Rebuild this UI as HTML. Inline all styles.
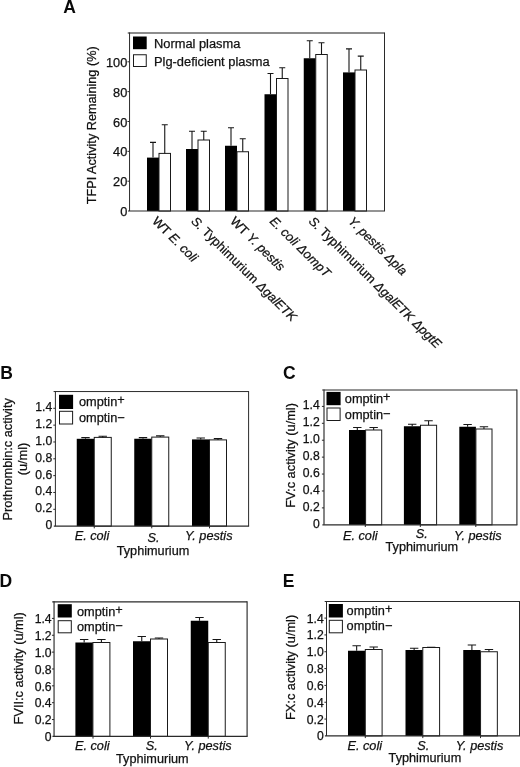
<!DOCTYPE html>
<html><head><meta charset="utf-8"><title>Figure</title>
<style>html,body{margin:0;padding:0;background:#fff}svg{display:block}text{stroke:#111;stroke-width:.25px;font-family:"Liberation Sans",sans-serif;fill:#111}.b{font-weight:bold;font-size:17.5px;fill:#0a0a0a;stroke:none}.i{font-style:italic}</style>
</head><body>
<svg width="520" height="767" viewBox="0 0 520 767">
<rect width="520" height="767" fill="#fff"/>
<text class="b" x="63.3" y="12.6">A</text>
<rect x="147" y="157.6" width="12" height="53.45" fill="#000"/>
<rect x="159" y="153.4" width="11.5" height="57.65" fill="#fff" stroke="#1a1a1a" stroke-width="1"/>
<path d="M153.00 157.6V142.4M150.00 142.4H156.00" fill="none" stroke="#161616" stroke-width="1.1"/>
<path d="M164.75 153.4V124.8M161.75 124.8H167.75" fill="none" stroke="#161616" stroke-width="1.1"/>
<rect x="186" y="149" width="12" height="62.05" fill="#000"/>
<rect x="198" y="140" width="11.5" height="71.05" fill="#fff" stroke="#1a1a1a" stroke-width="1"/>
<path d="M192.00 149V131.25M189.00 131.25H195.00" fill="none" stroke="#161616" stroke-width="1.1"/>
<path d="M203.75 140V131.25M200.75 131.25H206.75" fill="none" stroke="#161616" stroke-width="1.1"/>
<rect x="225" y="145.75" width="12" height="65.30" fill="#000"/>
<rect x="237" y="151.75" width="11.5" height="59.30" fill="#fff" stroke="#1a1a1a" stroke-width="1"/>
<path d="M231.00 145.75V127.75M228.00 127.75H234.00" fill="none" stroke="#161616" stroke-width="1.1"/>
<path d="M242.75 151.75V138.75M239.75 138.75H245.75" fill="none" stroke="#161616" stroke-width="1.1"/>
<rect x="264.5" y="94.25" width="12" height="116.80" fill="#000"/>
<rect x="276.5" y="78.5" width="11.5" height="132.55" fill="#fff" stroke="#1a1a1a" stroke-width="1"/>
<path d="M270.50 94.25V73.5M267.50 73.5H273.50" fill="none" stroke="#161616" stroke-width="1.1"/>
<path d="M282.25 78.5V67.75M279.25 67.75H285.25" fill="none" stroke="#161616" stroke-width="1.1"/>
<rect x="303.75" y="58.25" width="12" height="152.80" fill="#000"/>
<rect x="315.75" y="54.5" width="11.5" height="156.55" fill="#fff" stroke="#1a1a1a" stroke-width="1"/>
<path d="M309.75 58.25V40.75M306.75 40.75H312.75" fill="none" stroke="#161616" stroke-width="1.1"/>
<path d="M321.50 54.5V42.75M318.50 42.75H324.50" fill="none" stroke="#161616" stroke-width="1.1"/>
<rect x="343" y="72.4" width="12" height="138.65" fill="#000"/>
<rect x="355" y="70" width="11.5" height="141.05" fill="#fff" stroke="#1a1a1a" stroke-width="1"/>
<path d="M349.00 72.4V48.9M346.00 48.9H352.00" fill="none" stroke="#161616" stroke-width="1.1"/>
<path d="M360.75 70V56.1M357.75 56.1H363.75" fill="none" stroke="#161616" stroke-width="1.1"/>
<path d="M127.75000000000001 33H384.5" fill="none" stroke="#666" stroke-width="1.3"/>
<path d="M384.5 32.5V211.05" fill="none" stroke="#2a2a2a" stroke-width="1.0"/>
<path d="M129.55 32.5V211.05" fill="none" stroke="#2a2a2a" stroke-width="1.0"/>
<path d="M127.95000000000002 211.05H385.0" fill="none" stroke="#2a2a2a" stroke-width="1.1"/>
<text x="127.3" y="216.15" font-size="12.8" text-anchor="end">0</text>
<path d="M127.45000000000002 181.20H129.55" stroke="#2a2a2a" stroke-width="1"/>
<text x="127.3" y="186.30" font-size="12.8" text-anchor="end">20</text>
<path d="M127.45000000000002 151.35H129.55" stroke="#2a2a2a" stroke-width="1"/>
<text x="127.3" y="156.45" font-size="12.8" text-anchor="end">40</text>
<path d="M127.45000000000002 121.50H129.55" stroke="#2a2a2a" stroke-width="1"/>
<text x="127.3" y="126.60" font-size="12.8" text-anchor="end">60</text>
<path d="M127.45000000000002 91.65H129.55" stroke="#2a2a2a" stroke-width="1"/>
<text x="127.3" y="96.75" font-size="12.8" text-anchor="end">80</text>
<path d="M127.45000000000002 61.80H129.55" stroke="#2a2a2a" stroke-width="1"/>
<text x="127.3" y="66.90" font-size="12.8" text-anchor="end">100</text>
<text transform="translate(96 125.3) rotate(-90)" font-size="12.7" text-anchor="middle">TFPI Activity Remaining (%)</text>
<rect x="133" y="36.5" width="13.7" height="12.7" fill="#000"/>
<rect x="133.5" y="54.75" width="12.75" height="11.75" fill="#fff" stroke="#1a1a1a" stroke-width="1"/>
<text x="154" y="47.9" font-size="12.85">Normal plasma</text>
<text x="154" y="65.9" font-size="12.85">Plg-deficient plasma</text>
<text transform="translate(151.5 222) rotate(44.7)" font-size="12.75">WT <tspan class="i">E. coli</tspan></text>
<text transform="translate(190.5 222) rotate(44.7)" font-size="12.75"><tspan class="i">S.</tspan> Typhimurium <tspan class="i">ΔgalETK</tspan></text>
<text transform="translate(229.5 222) rotate(44.7)" font-size="12.75">WT <tspan class="i">Y. pestis</tspan></text>
<text transform="translate(269 222) rotate(44.7)" font-size="12.75"><tspan class="i">E. coli ΔompT</tspan></text>
<text transform="translate(308 222) rotate(44.7)" font-size="12.75"><tspan class="i">S.</tspan> Typhimurium <tspan class="i">ΔgalETK ΔpgtE</tspan></text>
<text transform="translate(347.5 222) rotate(44.7)" font-size="12.75"><tspan class="i">Y. pestis Δpla</tspan></text>
<text class="b" x="0.15" y="379.3">B</text>
<rect x="76.75" y="438.8" width="17.5" height="87.35" fill="#000"/>
<rect x="94.25" y="437.4" width="17.0" height="88.75" fill="#fff" stroke="#1a1a1a" stroke-width="1"/>
<path d="M85.50 438.8V437.6M81.30 437.6H89.70" fill="none" stroke="#161616" stroke-width="1.1"/>
<path d="M102.75 437.4V436.2M98.55 436.2H106.95" fill="none" stroke="#161616" stroke-width="1.1"/>
<rect x="134.25" y="438.75" width="17.5" height="87.40" fill="#000"/>
<rect x="151.75" y="437.1" width="17.0" height="89.05" fill="#fff" stroke="#1a1a1a" stroke-width="1"/>
<path d="M143.00 438.75V437.6M138.80 437.6H147.20" fill="none" stroke="#161616" stroke-width="1.1"/>
<path d="M160.25 437.1V435.9M156.05 435.9H164.45" fill="none" stroke="#161616" stroke-width="1.1"/>
<rect x="192" y="439.4" width="17.5" height="86.75" fill="#000"/>
<rect x="209.5" y="439.9" width="17.0" height="86.25" fill="#fff" stroke="#1a1a1a" stroke-width="1"/>
<path d="M200.75 439.4V438.0M196.55 438.0H204.95" fill="none" stroke="#161616" stroke-width="1.1"/>
<path d="M218.00 439.9V438.6M213.80 438.6H222.20" fill="none" stroke="#161616" stroke-width="1.1"/>
<path d="M53.6 391.55H248.6" fill="none" stroke="#2a2a2a" stroke-width="1.0"/>
<path d="M248.6 391.05V526.15" fill="none" stroke="#2a2a2a" stroke-width="1.0"/>
<path d="M55.4 391.05V526.15" fill="none" stroke="#2a2a2a" stroke-width="1.0"/>
<path d="M53.8 526.15H249.1" fill="none" stroke="#2a2a2a" stroke-width="1.1"/>
<text x="52.2" y="529.15" font-size="12.2" text-anchor="end">0</text>
<path d="M53.3 509.31H55.4" stroke="#2a2a2a" stroke-width="1"/>
<text x="52.2" y="512.31" font-size="12.2" text-anchor="end">0.2</text>
<path d="M53.3 492.48H55.4" stroke="#2a2a2a" stroke-width="1"/>
<text x="52.2" y="495.48" font-size="12.2" text-anchor="end">0.4</text>
<path d="M53.3 475.64H55.4" stroke="#2a2a2a" stroke-width="1"/>
<text x="52.2" y="478.64" font-size="12.2" text-anchor="end">0.6</text>
<path d="M53.3 458.81H55.4" stroke="#2a2a2a" stroke-width="1"/>
<text x="52.2" y="461.81" font-size="12.2" text-anchor="end">0.8</text>
<path d="M53.3 441.97H55.4" stroke="#2a2a2a" stroke-width="1"/>
<text x="52.2" y="444.97" font-size="12.2" text-anchor="end">1.0</text>
<path d="M53.3 425.14H55.4" stroke="#2a2a2a" stroke-width="1"/>
<text x="52.2" y="428.14" font-size="12.2" text-anchor="end">1.2</text>
<path d="M53.3 408.30H55.4" stroke="#2a2a2a" stroke-width="1"/>
<text x="52.2" y="411.30" font-size="12.2" text-anchor="end">1.4</text>
<text transform="translate(12.1 459.3) rotate(-90)" font-size="12.8" text-anchor="middle">Prothrombin:c activity</text>
<text transform="translate(27.4 459) rotate(-90)" font-size="12.8" text-anchor="middle">(u/ml)</text>
<rect x="59" y="394.8" width="14.10" height="14.20" fill="#000"/>
<rect x="59.5" y="411.3" width="13.10" height="12.70" fill="#fff" stroke="#1a1a1a" stroke-width="1"/>
<text x="79" y="405.6" font-size="12.75">omptin<tspan dy="-1.4">+</tspan></text>
<text x="79" y="422.1" font-size="12.75">omptin<tspan dy="-0.3">−</tspan></text>
<text class="i" x="74.7" y="540" font-size="12.7">E. coli</text>
<text class="i" x="147.5" y="541.5" font-size="12.7">S.</text>
<text class="i" x="185" y="540.2" font-size="12.7">Y. pestis</text>
<text x="116.7" y="554.5" font-size="12.7">Typhimurium</text>
<path d="M94.25 526.15v2.2" stroke="#2a2a2a" stroke-width="1"/>
<path d="M151.75 526.15v2.2" stroke="#2a2a2a" stroke-width="1"/>
<path d="M209.5 526.15v2.2" stroke="#2a2a2a" stroke-width="1"/>
<text class="b" x="283" y="379.3">C</text>
<rect x="349" y="430" width="16.6" height="94.80" fill="#000"/>
<rect x="365.6" y="430" width="16.1" height="94.80" fill="#fff" stroke="#1a1a1a" stroke-width="1"/>
<path d="M357.30 430V427.5M353.10 427.5H361.50" fill="none" stroke="#161616" stroke-width="1.1"/>
<path d="M373.65 430V427.5M369.45 427.5H377.85" fill="none" stroke="#161616" stroke-width="1.1"/>
<rect x="403.9" y="426.25" width="16.6" height="98.55" fill="#000"/>
<rect x="420.5" y="425.25" width="16.1" height="99.55" fill="#fff" stroke="#1a1a1a" stroke-width="1"/>
<path d="M412.20 426.25V424.25M408.00 424.25H416.40" fill="none" stroke="#161616" stroke-width="1.1"/>
<path d="M428.55 425.25V420.75M424.35 420.75H432.75" fill="none" stroke="#161616" stroke-width="1.1"/>
<rect x="459.3" y="426.75" width="16.6" height="98.05" fill="#000"/>
<rect x="475.90000000000003" y="429" width="16.1" height="95.80" fill="#fff" stroke="#1a1a1a" stroke-width="1"/>
<path d="M467.60 426.75V424.5M463.40 424.5H471.80" fill="none" stroke="#161616" stroke-width="1.1"/>
<path d="M483.95 429V426.75M479.75 426.75H488.15" fill="none" stroke="#161616" stroke-width="1.1"/>
<path d="M322.2 389.95H516.9" fill="none" stroke="#2a2a2a" stroke-width="1.15"/>
<path d="M516.9 389.45V524.8" fill="none" stroke="#2a2a2a" stroke-width="1.15"/>
<path d="M324 389.45V524.8" fill="none" stroke="#2a2a2a" stroke-width="1.15"/>
<path d="M322.4 524.8H517.4" fill="none" stroke="#2a2a2a" stroke-width="1.25"/>
<text x="319.8" y="527.80" font-size="12.2" text-anchor="end">0</text>
<path d="M321.9 507.89H324" stroke="#2a2a2a" stroke-width="1"/>
<text x="319.8" y="510.89" font-size="12.2" text-anchor="end">0.2</text>
<path d="M321.9 490.97H324" stroke="#2a2a2a" stroke-width="1"/>
<text x="319.8" y="493.97" font-size="12.2" text-anchor="end">0.4</text>
<path d="M321.9 474.06H324" stroke="#2a2a2a" stroke-width="1"/>
<text x="319.8" y="477.06" font-size="12.2" text-anchor="end">0.6</text>
<path d="M321.9 457.14H324" stroke="#2a2a2a" stroke-width="1"/>
<text x="319.8" y="460.14" font-size="12.2" text-anchor="end">0.8</text>
<path d="M321.9 440.23H324" stroke="#2a2a2a" stroke-width="1"/>
<text x="319.8" y="443.23" font-size="12.2" text-anchor="end">1.0</text>
<path d="M321.9 423.31H324" stroke="#2a2a2a" stroke-width="1"/>
<text x="319.8" y="426.31" font-size="12.2" text-anchor="end">1.2</text>
<path d="M321.9 406.40H324" stroke="#2a2a2a" stroke-width="1"/>
<text x="319.8" y="409.40" font-size="12.2" text-anchor="end">1.4</text>
<text transform="translate(294.6 455.4) rotate(-90)" font-size="12.8" text-anchor="middle">FV:c activity (u/ml)</text>
<rect x="326.5" y="391.9" width="14.10" height="13.30" fill="#000"/>
<rect x="327.0" y="408.0" width="13.10" height="12.50" fill="#fff" stroke="#1a1a1a" stroke-width="1"/>
<text x="344.8" y="402.5" font-size="12.75">omptin<tspan dy="-1.4">+</tspan></text>
<text x="344.8" y="418.6" font-size="12.75">omptin<tspan dy="-0.3">−</tspan></text>
<text class="i" x="343" y="539.5" font-size="12.7">E. coli</text>
<text class="i" x="415.7" y="537.5" font-size="12.7">S.</text>
<text class="i" x="454.1" y="539.8" font-size="12.7">Y. pestis</text>
<text x="385.5" y="550.8" font-size="12.7">Typhimurium</text>
<path d="M365.3 524.8v2.2" stroke="#2a2a2a" stroke-width="1"/>
<path d="M420.3 524.8v2.2" stroke="#2a2a2a" stroke-width="1"/>
<path d="M475.8 524.8v2.2" stroke="#2a2a2a" stroke-width="1"/>
<text class="b" x="-0.5" y="587.3">D</text>
<rect x="75.4" y="642.5" width="17.5" height="93.90" fill="#000"/>
<rect x="92.9" y="642.5" width="17.0" height="93.90" fill="#fff" stroke="#1a1a1a" stroke-width="1"/>
<path d="M84.15 642.5V639.5M79.95 639.5H88.35" fill="none" stroke="#161616" stroke-width="1.1"/>
<path d="M101.40 642.5V639.5M97.20 639.5H105.60" fill="none" stroke="#161616" stroke-width="1.1"/>
<rect x="133" y="641.25" width="17.5" height="95.15" fill="#000"/>
<rect x="150.5" y="639" width="17.0" height="97.40" fill="#fff" stroke="#1a1a1a" stroke-width="1"/>
<path d="M141.75 641.25V636.5M137.55 636.5H145.95" fill="none" stroke="#161616" stroke-width="1.1"/>
<path d="M159.00 639V638M154.80 638H163.20" fill="none" stroke="#161616" stroke-width="1.1"/>
<rect x="190.75" y="620.75" width="17.5" height="115.65" fill="#000"/>
<rect x="208.25" y="642.5" width="17.0" height="93.90" fill="#fff" stroke="#1a1a1a" stroke-width="1"/>
<path d="M199.50 620.75V617.5M195.30 617.5H203.70" fill="none" stroke="#161616" stroke-width="1.1"/>
<path d="M216.75 642.5V639.5M212.55 639.5H220.95" fill="none" stroke="#161616" stroke-width="1.1"/>
<path d="M52.25 601.8H247.1" fill="none" stroke="#2a2a2a" stroke-width="1.15"/>
<path d="M247.1 601.3V736.4" fill="none" stroke="#2a2a2a" stroke-width="1.15"/>
<path d="M54.05 601.3V736.4" fill="none" stroke="#2a2a2a" stroke-width="1.15"/>
<path d="M52.449999999999996 736.4H247.6" fill="none" stroke="#2a2a2a" stroke-width="1.25"/>
<text x="51.6" y="741.10" font-size="12.2" text-anchor="end">0</text>
<path d="M51.949999999999996 719.54H54.05" stroke="#2a2a2a" stroke-width="1"/>
<text x="51.6" y="724.24" font-size="12.2" text-anchor="end">0.2</text>
<path d="M51.949999999999996 702.69H54.05" stroke="#2a2a2a" stroke-width="1"/>
<text x="51.6" y="707.39" font-size="12.2" text-anchor="end">0.4</text>
<path d="M51.949999999999996 685.83H54.05" stroke="#2a2a2a" stroke-width="1"/>
<text x="51.6" y="690.53" font-size="12.2" text-anchor="end">0.6</text>
<path d="M51.949999999999996 668.97H54.05" stroke="#2a2a2a" stroke-width="1"/>
<text x="51.6" y="673.67" font-size="12.2" text-anchor="end">0.8</text>
<path d="M51.949999999999996 652.11H54.05" stroke="#2a2a2a" stroke-width="1"/>
<text x="51.6" y="656.81" font-size="12.2" text-anchor="end">1.0</text>
<path d="M51.949999999999996 635.26H54.05" stroke="#2a2a2a" stroke-width="1"/>
<text x="51.6" y="639.96" font-size="12.2" text-anchor="end">1.2</text>
<path d="M51.949999999999996 618.40H54.05" stroke="#2a2a2a" stroke-width="1"/>
<text x="51.6" y="623.10" font-size="12.2" text-anchor="end">1.4</text>
<text transform="translate(23.4 668.3) rotate(-90)" font-size="12.8" text-anchor="middle">FVII:c activity (u/ml)</text>
<rect x="57.7" y="604.2" width="14.10" height="13.30" fill="#000"/>
<rect x="58.2" y="620.7" width="13.10" height="12.10" fill="#fff" stroke="#1a1a1a" stroke-width="1"/>
<text x="77" y="615.5" font-size="12.75">omptin<tspan dy="-1.4">+</tspan></text>
<text x="77" y="630.6" font-size="12.75">omptin<tspan dy="-0.3">−</tspan></text>
<text class="i" x="75" y="750" font-size="12.7">E. coli</text>
<text class="i" x="145.7" y="750.2" font-size="12.7">S.</text>
<text class="i" x="184.1" y="750" font-size="12.7">Y. pestis</text>
<text x="116" y="763.2" font-size="12.7">Typhimurium</text>
<path d="M93 736.4v2.2" stroke="#2a2a2a" stroke-width="1"/>
<path d="M150.5 736.4v2.2" stroke="#2a2a2a" stroke-width="1"/>
<path d="M208.25 736.4v2.2" stroke="#2a2a2a" stroke-width="1"/>
<text class="b" x="282.85" y="587.3">E</text>
<rect x="348" y="650.75" width="17.3" height="85.15" fill="#000"/>
<rect x="365.3" y="649.5" width="16.8" height="86.40" fill="#fff" stroke="#1a1a1a" stroke-width="1"/>
<path d="M356.65 650.75V645.75M352.45 645.75H360.85" fill="none" stroke="#161616" stroke-width="1.1"/>
<path d="M373.70 649.5V647M369.50 647H377.90" fill="none" stroke="#161616" stroke-width="1.1"/>
<rect x="405.5" y="650" width="17.3" height="85.90" fill="#000"/>
<rect x="422.8" y="647.5" width="16.8" height="88.40" fill="#fff" stroke="#1a1a1a" stroke-width="1"/>
<path d="M414.15 650V648.25M409.95 648.25H418.35" fill="none" stroke="#161616" stroke-width="1.1"/>
<path d="M431.20 647.5V647.2M427.00 647.2H435.40" fill="none" stroke="#161616" stroke-width="1.1"/>
<rect x="463.25" y="650" width="17.3" height="85.90" fill="#000"/>
<rect x="480.55" y="651.75" width="16.8" height="84.15" fill="#fff" stroke="#1a1a1a" stroke-width="1"/>
<path d="M471.90 650V645M467.70 645H476.10" fill="none" stroke="#161616" stroke-width="1.1"/>
<path d="M488.95 651.75V649.5M484.75 649.5H493.15" fill="none" stroke="#161616" stroke-width="1.1"/>
<path d="M324.7 601.5H519.5" fill="none" stroke="#2a2a2a" stroke-width="1.0"/>
<path d="M519.5 601.0V735.9" fill="none" stroke="#2a2a2a" stroke-width="1.0"/>
<path d="M326.5 601.0V735.9" fill="none" stroke="#2a2a2a" stroke-width="1.0"/>
<path d="M324.9 735.9H520.0" fill="none" stroke="#2a2a2a" stroke-width="1.1"/>
<text x="323.8" y="740.40" font-size="12.2" text-anchor="end">0</text>
<path d="M324.4 719.07H326.5" stroke="#2a2a2a" stroke-width="1"/>
<text x="323.8" y="723.57" font-size="12.2" text-anchor="end">0.2</text>
<path d="M324.4 702.24H326.5" stroke="#2a2a2a" stroke-width="1"/>
<text x="323.8" y="706.74" font-size="12.2" text-anchor="end">0.4</text>
<path d="M324.4 685.41H326.5" stroke="#2a2a2a" stroke-width="1"/>
<text x="323.8" y="689.91" font-size="12.2" text-anchor="end">0.6</text>
<path d="M324.4 668.59H326.5" stroke="#2a2a2a" stroke-width="1"/>
<text x="323.8" y="673.09" font-size="12.2" text-anchor="end">0.8</text>
<path d="M324.4 651.76H326.5" stroke="#2a2a2a" stroke-width="1"/>
<text x="323.8" y="656.26" font-size="12.2" text-anchor="end">1.0</text>
<path d="M324.4 634.93H326.5" stroke="#2a2a2a" stroke-width="1"/>
<text x="323.8" y="639.43" font-size="12.2" text-anchor="end">1.2</text>
<path d="M324.4 618.10H326.5" stroke="#2a2a2a" stroke-width="1"/>
<text x="323.8" y="622.60" font-size="12.2" text-anchor="end">1.4</text>
<text transform="translate(295 667.4) rotate(-90)" font-size="12.8" text-anchor="middle">FX:c activity (u/ml)</text>
<rect x="328.8" y="604" width="14.10" height="13.50" fill="#000"/>
<rect x="329.3" y="620.3" width="13.10" height="12.50" fill="#fff" stroke="#1a1a1a" stroke-width="1"/>
<text x="346.6" y="614.7" font-size="12.75">omptin<tspan dy="-1.4">+</tspan></text>
<text x="346.6" y="630.3" font-size="12.75">omptin<tspan dy="-0.3">−</tspan></text>
<text class="i" x="347.5" y="749.5" font-size="12.7">E. coli</text>
<text class="i" x="417.3" y="749.5" font-size="12.7">S.</text>
<text class="i" x="455.8" y="749.5" font-size="12.7">Y. pestis</text>
<text x="388.6" y="762.4" font-size="12.7">Typhimurium</text>
<path d="M365.3 735.9v2.2" stroke="#2a2a2a" stroke-width="1"/>
<path d="M422.8 735.9v2.2" stroke="#2a2a2a" stroke-width="1"/>
<path d="M480.5 735.9v2.2" stroke="#2a2a2a" stroke-width="1"/>
</svg></body></html>
